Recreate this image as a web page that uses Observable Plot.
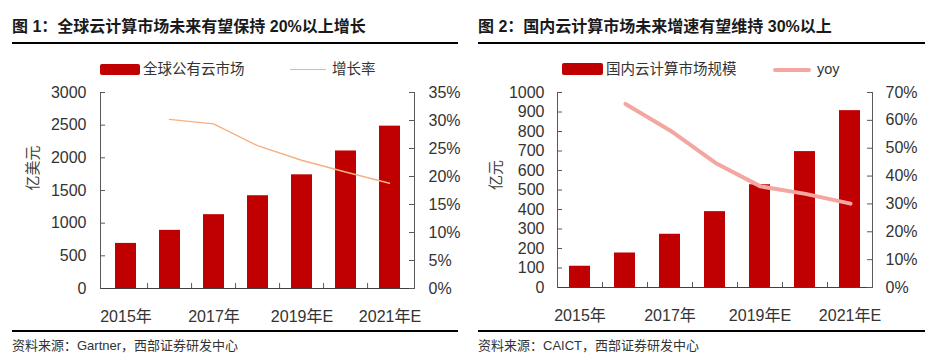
<!DOCTYPE html>
<html><head><meta charset="utf-8">
<script src="https://cdn.jsdelivr.net/npm/d3@7"></script>
<script src="https://cdn.jsdelivr.net/npm/@observablehq/plot@0.6"></script>
<style>
body{margin:0;background:#fff;font-family:"Liberation Sans","Noto Sans CJK SC",sans-serif;color:#333}
#root{position:relative;width:933px;height:363px;overflow:hidden;background:#fff}
.panel{position:absolute;top:0;height:363px;overflow:hidden}
.abs{position:absolute;white-space:nowrap}
.title{font-size:16px;font-weight:700;color:#1a1a1a;line-height:18px;top:18px}
.hr{position:absolute;background:#000}
.leg{font-size:14.5px;line-height:16px;top:61px;color:#333}
.src{font-size:13px;line-height:15px;top:338px;color:#333}
svg.plotsvg{position:absolute !important;top:80px;left:0;max-width:none !important;height:250px !important}
</style></head>
<body><div id="root">
  <div class="panel" id="p1" style="left:0;width:466px"></div>
  <div class="panel" id="p2" style="left:466px;width:467px"></div>
</div>
<script>
// ---- data ----
const years = ["2015年","2016年","2017年","2018年","2019年E","2020年E","2021年E"];
const shownYears = ["2015年","2017年","2019年E","2021年E"];
const globalCloud = [690, 890, 1130, 1420, 1740, 2105, 2485];
const globalGrowth = [null, 0.302, 0.294, 0.255, 0.229, 0.208, 0.188];
const chinaCloud = [109, 177, 273, 389, 527, 697, 907];
const chinaYoy = [null, 0.659, 0.563, 0.447, 0.363, 0.336, 0.301];
const leftTicks1 = [0,500,1000,1500,2000,2500,3000];
const rightTicks1 = [0,0.05,0.10,0.15,0.20,0.25,0.30,0.35];
const leftTicks2 = [0,100,200,300,400,500,600,700,800,900,1000];
const rightTicks2 = [0,0.1,0.2,0.3,0.4,0.5,0.6,0.7];

const FONT = '"Liberation Sans","Noto Sans CJK SC",sans-serif';
const AXIS = "#595959";
const BAR = "#C00000";

function buildPanel(cfg){
  const el = document.getElementById(cfg.id);
  const W = cfg.width, H = 250;
  const fw = W - cfg.ml - cfg.mr, fh = H - cfg.mt - cfg.mb;
  const step = fw / years.length;
  const barData = years.map((y,i)=>({year:y, v:cfg.bars[i]}));
  const lineData = years.map((y,i)=>({year:y, v:cfg.line[i]})).filter(d=>d.v!=null);
  const common = {
    width: W, height: H, marginLeft: cfg.ml, marginRight: cfg.mr, marginTop: cfg.mt, marginBottom: cfg.mb,
    style: {fontFamily: FONT, fontSize: "16px", color: "#333", background: "transparent", overflow: "visible"}
  };
  const xOpts = {domain: years, paddingInner: 0.53, paddingOuter: 0.265, label: null, axis: null};
  const A = Plot.plot({
    ...common,
    x: xOpts,
    y: {domain: [0, cfg.yMax], label: null, axis: null},
    marks: [
      Plot.barY(barData, {x: "year", y: "v", fill: BAR}),
      Plot.axisY({ticks: cfg.leftTicks, tickSize: 0, tickPadding: cfg.tp, tickFormat: d => String(d), fontSize: 16, label: null}),
      Plot.tickY(cfg.leftTicks, {y: d => d, stroke: AXIS, insetRight: fw - 5}),
      Plot.tickX(years.slice(1), {x: d => d, dx: -step/2, stroke: AXIS, insetTop: fh - 5}),
      Plot.axisX({ticks: shownYears, tickSize: 0, tickPadding: 22, fontSize: 16, label: null}),
      Plot.ruleY([0], {stroke: "#404040"}),
      Plot.frame({anchor: "left", stroke: AXIS}),
      Plot.text([cfg.yLabel], {frameAnchor: "left", dx: cfg.labelDx, rotate: -90, fontSize: 15, fill: "#404040"})
    ]
  });
  const B = Plot.plot({
    ...common,
    x: xOpts,
    y: {domain: [0, cfg.y2Max], label: null, axis: null},
    marks: [
      Plot.axisY({anchor: "right", ticks: cfg.rightTicks, tickSize: 0, tickPadding: cfg.tp, tickFormat: d => Math.round(d*100) + "%", fontSize: 16, label: null}),
      Plot.tickY(cfg.rightTicks, {y: d => d, stroke: AXIS, insetLeft: fw - 5}),
      Plot.frame({anchor: "right", stroke: AXIS}),
      Plot.lineY(lineData, {x: "year", y: "v", stroke: cfg.lineColor, strokeWidth: cfg.lineWidth, strokeLinecap: "round"})
    ]
  });
  A.classList.add("plotsvg"); B.classList.add("plotsvg");
  el.appendChild(A); el.appendChild(B);
  // texts
  const add = (cls, style, text) => { const d = document.createElement("div"); d.className = "abs " + cls; Object.assign(d.style, style); if (text) d.textContent = text; el.appendChild(d); return d; };
  add("title", {left: "12px"}, cfg.title);
  add("hr", {left: "12px", width: (cfg.lineEnd - 12) + "px", top: "42px", height: "2px"});
  add("hr", {left: "12px", width: (cfg.lineEnd - 12) + "px", top: "330px", height: "1.5px"});
  add("src", {left: "12px"}, cfg.source);
  // legend
  const lg = cfg.legend;
  add("", {left: lg.rectX + "px", top: lg.rectY + "px", width: lg.rectW + "px", height: lg.rectH + "px", background: BAR, borderRadius: "2px"});
  add("leg", {left: (lg.rectX + lg.rectW + 3) + "px"}, cfg.barName);
  add("", {left: lg.lineX + "px", top: (69.5 - cfg.lineWidth/2) + "px", width: lg.lineW + "px", height: cfg.lineWidth + "px", background: cfg.lineColor, borderRadius: (cfg.lineWidth/2) + "px"});
  add("leg", {left: (lg.lineX + lg.lineW + 6) + "px"}, cfg.lineName);
}

buildPanel({
  id: "p1", width: 466, ml: 100, mr: 52, mt: 12, mb: 42, tp: 14,
  bars: globalCloud, line: globalGrowth, yMax: 3000, y2Max: 0.35,
  leftTicks: leftTicks1, rightTicks: rightTicks1,
  lineColor: "#F4B183", lineWidth: 1.4,
  yLabel: "亿美元", labelDx: -67,
  title: "图 1：全球云计算市场未来有望保持 20%以上增长",
  source: "资料来源：Gartner，西部证券研发中心",
  barName: "全球公有云市场", lineName: "增长率",
  lineEnd: 458,
  legend: {rectX: 100, rectY: 63.5, rectW: 40, rectH: 11, lineX: 290, lineW: 36}
});
buildPanel({
  id: "p2", width: 467, ml: 91, mr: 61, mt: 12, mb: 43, tp: 13,
  bars: chinaCloud, line: chinaYoy, yMax: 1000, y2Max: 0.70,
  leftTicks: leftTicks2, rightTicks: rightTicks2,
  lineColor: "#F4A6A0", lineWidth: 4,
  yLabel: "亿元", labelDx: -61,
  title: "图 2：国内云计算市场未来增速有望维持 30%以上",
  source: "资料来源：CAICT，西部证券研发中心",
  barName: "国内云计算市场规模", lineName: "yoy",
  lineEnd: 459,
  legend: {rectX: 96, rectY: 63, rectW: 41, rectH: 12, lineX: 307, lineW: 38}
});
</script>
</body></html>
